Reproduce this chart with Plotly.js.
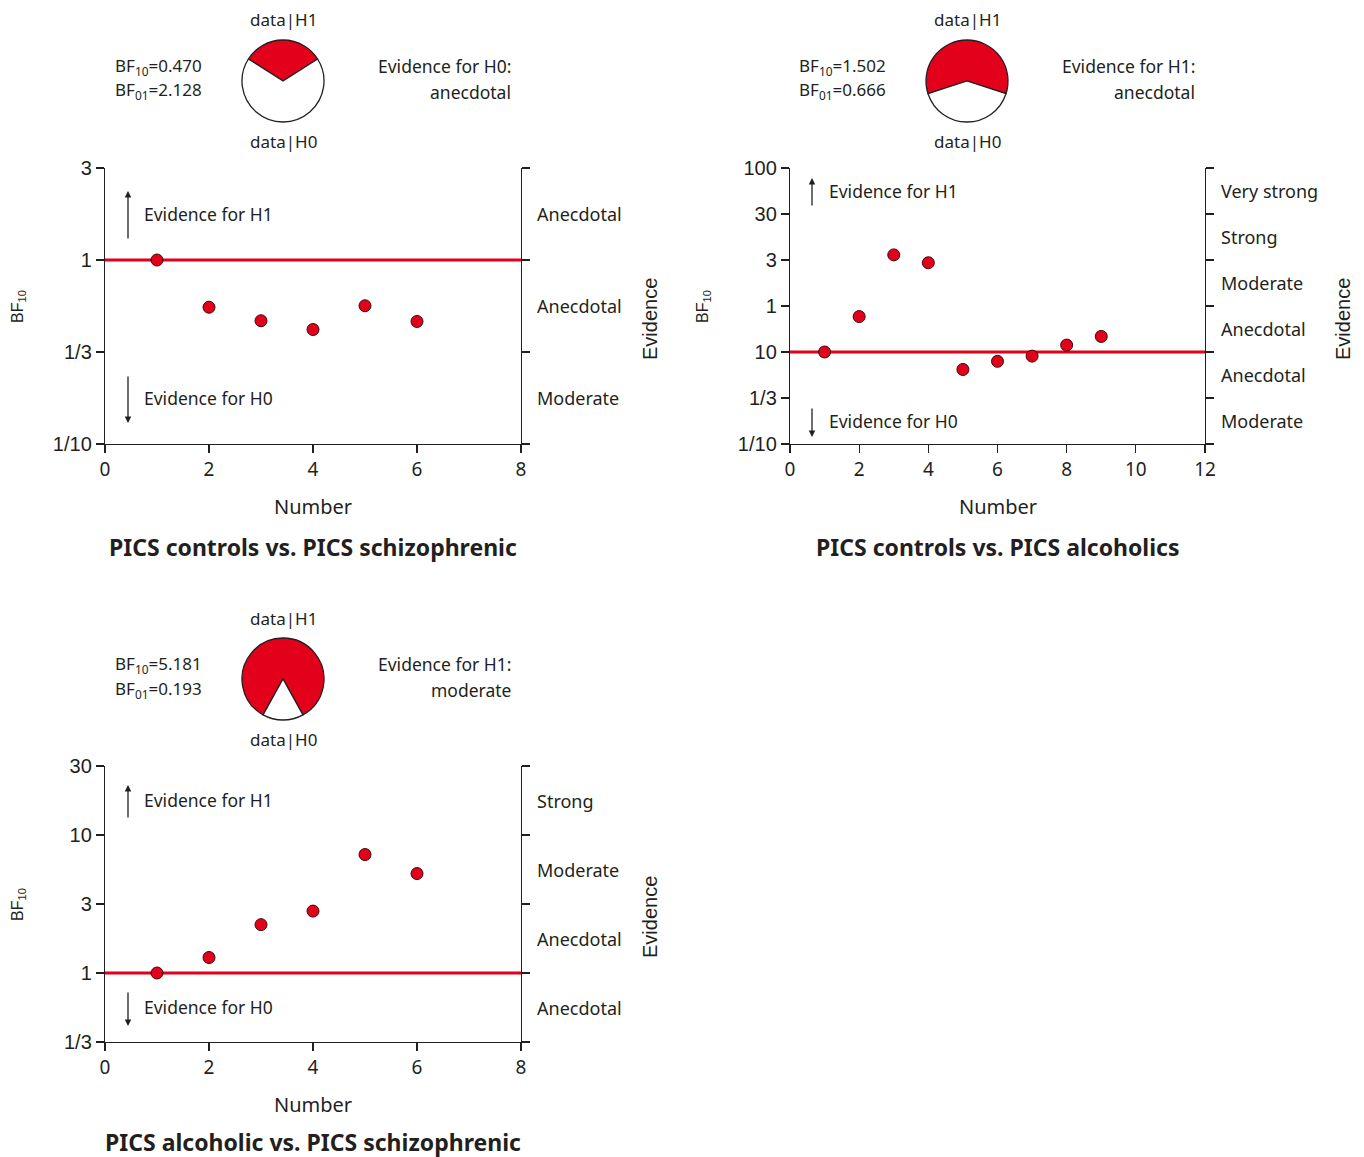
<!DOCTYPE html>
<html>
<head>
<meta charset="utf-8">
<script src="https://cdn.plot.ly/plotly-3.0.1.min.js"></script>
<style>html,body{margin:0;padding:0;background:#fff;}#chart{width:1364px;height:1157px;}</style>
</head>
<body>
<div id="chart"></div>
<script>
// ---------------- data ----------------
const number1 = [1, 2, 3, 4, 5, 6];
const bf1 = [1.0, 0.569, 0.484, 0.436, 0.579, 0.480];
const number2 = [1, 2, 3, 4, 5, 6, 7, 8, 9];
const bf2 = [1.0, 2.33, 11.3, 9.3, 0.659, 0.80, 0.906, 1.18, 1.45];
const number3 = [1, 2, 3, 4, 5, 6];
const bf3 = [1.0, 1.28, 2.16, 2.68, 7.11, 5.10];

const ticks1 = [0.1, 1/3, 1, 3];
const tickLabels1 = ["1/10", "1/3", "1", "3"];
const ticks2 = [0.1, 1/3, 1, 3, 10, 30, 100];
const tickLabels2 = ["1/10", "1/3", "10", "1", "3", "30", "100"];
const ticks3 = [1/3, 1, 3, 10, 30];
const tickLabels3 = ["1/3", "1", "3", "10", "30"];

const evidence1 = ["Moderate", "Anecdotal", "Anecdotal"];
const evidence2 = ["Moderate", "Anecdotal", "Anecdotal", "Moderate", "Strong", "Very strong"];
const evidence3 = ["Anecdotal", "Anecdotal", "Moderate", "Strong"];

const finalBF10 = [0.470, 1.502, 5.181];
const finalBF01 = [2.128, 0.666, 0.193];
const verdictHead = ["Evidence for H0:", "Evidence for H1:", "Evidence for H1:"];
const verdictWord = ["anecdotal", "anecdotal", "moderate"];
const panelTitles = ["PICS controls vs. PICS schizophrenic", "PICS controls vs. PICS alcoholics", "PICS alcoholic vs. PICS schizophrenic"];
const xMax = [8, 12, 8];

// ---------------- helpers ----------------
const W = 1364, H = 1157;
const RED = '#e2001a', INK = '#231f20';
const FONT = 'Noto Sans, sans-serif';
const px = x => x / W;
const py = y => 1 - y / H;

// evenly spaced evidence-scale position (piecewise log between tick values)
function pos(v, ticks) {
  for (let i = 0; i < ticks.length - 1; i++) {
    if (v <= ticks[i + 1] || i === ticks.length - 2) {
      return i + Math.log(v / ticks[i]) / Math.log(ticks[i + 1] / ticks[i]);
    }
  }
}

const panels = [
  {n: number1, bf: bf1, ticks: ticks1, labels: tickLabels1, ev: evidence1,
   x0: 105, x1: 521, y0: 168, y1: 444, dy: 0, dx: 0},
  {n: number2, bf: bf2, ticks: ticks2, labels: tickLabels2, ev: evidence2,
   x0: 790, x1: 1205, y0: 168, y1: 444, dy: 0, dx: 684},
  {n: number3, bf: bf3, ticks: ticks3, labels: tickLabels3, ev: evidence3,
   x0: 105, x1: 521, y0: 766, y1: 1042, dy: 598, dx: 0}
];

const data = [];
const annotations = [];
const shapes = [];
const layout = {
  width: W, height: H,
  margin: {l: 0, r: 0, t: 0, b: 0},
  paper_bgcolor: '#fff', plot_bgcolor: '#fff',
  showlegend: false,
  font: {family: FONT, color: INK}
};

panels.forEach((p, k) => {
  const sx = k === 0 ? '' : String(k + 1);
  const xa = 'x' + sx, ya = 'y' + sx;
  const nT = p.ticks.length - 1;
  const tickPos = p.ticks.map(t => pos(t, p.ticks));
  const xt = [];
  for (let v = 0; v <= xMax[k]; v += 2) xt.push(v);

  layout['xaxis' + sx] = {
    domain: [px(p.x0), px(p.x1)], anchor: ya, range: [0, xMax[k]],
    tickvals: xt, ticks: 'outside', ticklen: 8, tickwidth: 1.2, tickcolor: INK,
    showline: true, linecolor: INK, linewidth: 1.2, showgrid: false, zeroline: false,
    tickfont: {family: FONT, size: 19, color: INK}, fixedrange: true
  };
  layout['yaxis' + sx] = {
    domain: [py(p.y1), py(p.y0)], anchor: xa, range: [0, nT],
    tickvals: tickPos, ticktext: p.labels, ticks: 'outside', ticklen: 8, tickwidth: 1.2, tickcolor: INK,
    showline: true, mirror: 'ticks', linecolor: INK, linewidth: 1.2, showgrid: false, zeroline: false,
    tickfont: {family: 'Liberation Sans, Arial, sans-serif', size: 20, color: INK}, fixedrange: true
  };

  // reference line at BF = 1
  shapes.push({type: 'line', xref: xa, yref: ya, x0: 0, x1: xMax[k],
    y0: pos(1, p.ticks), y1: pos(1, p.ticks), line: {color: RED, width: 3}, layer: 'below'});

  // points
  data.push({
    type: 'scatter', mode: 'markers', xaxis: xa, yaxis: ya,
    x: p.n, y: p.bf.map(v => pos(v, p.ticks)),
    marker: {size: 12, color: RED, line: {color: '#3a0a0a', width: 1}},
    hoverinfo: 'skip', cliponaxis: false
  });

  // pie
  const h1 = finalBF10[k] / (1 + finalBF10[k]);
  const h0 = 1 - h1;
  const cx = 283 + p.dx, cy = 81 + p.dy, r = 41;
  data.push({
    type: 'pie', values: [h1, h0], labels: ['data|H1', 'data|H0'],
    marker: {colors: [RED, '#ffffff'], line: {color: INK, width: 1.3}},
    sort: false, direction: 'clockwise', rotation: -h1 * 180,
    textinfo: 'none', hoverinfo: 'skip', showlegend: false,
    domain: {x: [px(cx - r), px(cx + r)], y: [py(cy + r), py(cy - r)]}
  });

  const txt = (text, x, y, xanchor, size, extra) => annotations.push(Object.assign({
    text: text, xref: 'paper', yref: 'paper', x: px(x), y: py(y),
    xanchor: xanchor, yanchor: 'middle', showarrow: false,
    font: {family: FONT, size: size, color: INK}
  }, extra || {}));

  txt('data|H1', cx, 20 + p.dy, 'center', 17);
  txt('data|H0', cx, 141 + p.dy, 'center', 17);
  txt('BF<sub>10</sub>=' + finalBF10[k].toFixed(3), 113 + p.dx, 66 + p.dy, 'left', 17);
  txt('BF<sub>01</sub>=' + finalBF01[k].toFixed(3), 113 + p.dx, 91 + p.dy, 'left', 17);
  txt(verdictHead[k], 513 + p.dx, 66 + p.dy, 'right', 17.5);
  txt(verdictWord[k], 513 + p.dx, 92 + p.dy, 'right', 17.5);

  // evidence direction arrows + text
  const upHead = [p.y0 + 23, p.y0 + 10, p.y0 + 19][k];
  const upLen = [49, 29, 34][k];
  const dnHead = [p.y1 - 21, p.y1 - 7, p.y1 - 16][k];
  const dnLen = [48, 30, 35][k];
  const upTxt = [214, 191, 800][k];
  const dnTxt = [398, 421, 1007][k];
  const axp = p.x0 + 23 - (k === 1 ? 1 : 0);
  annotations.push({xref: 'paper', yref: 'paper', x: px(axp), y: py(upHead), ax: 0, ay: upLen,
    text: '', showarrow: true, arrowhead: 2, arrowsize: 1, arrowwidth: 1.3, arrowcolor: INK});
  annotations.push({xref: 'paper', yref: 'paper', x: px(axp), y: py(dnHead), ax: 0, ay: -dnLen,
    text: '', showarrow: true, arrowhead: 2, arrowsize: 1, arrowwidth: 1.3, arrowcolor: INK});
  txt('Evidence for H1', p.x0 + 37, upTxt, 'left', 17.5);
  txt('Evidence for H0', p.x0 + 37, dnTxt, 'left', 17.5);

  // evidence categories on right
  p.ev.forEach((lab, i) => {
    annotations.push({text: lab, xref: 'paper', yref: ya, x: px(p.x1 + 14), y: i + 0.5,
      xanchor: 'left', yanchor: 'middle', showarrow: false,
      font: {family: FONT, size: 18, color: INK}});
  });

  // axis titles
  const midY = (p.y0 + p.y1) / 2;
  txt('BF<sub>10</sub>', p.x0 - 87, midY + 1, 'center', 16,
    {textangle: -90, font: {family: 'Liberation Sans, Arial, sans-serif', size: 16, color: INK}});
  txt('Evidence', p.x1 + 129 + (k === 1 ? 9 : 0), midY + 13, 'center', 20,
    {textangle: -90, font: {family: 'Liberation Sans, Arial, sans-serif', size: 20, color: INK}});
  txt('Number', (p.x0 + p.x1) / 2, p.y1 + 62, 'center', 20);
  txt('<b>' + panelTitles[k] + '</b>', (p.x0 + p.x1) / 2, p.y1 + (k === 2 ? 100 : 103), 'center', 23,
    {font: {family: FONT, size: 23, color: INK}});
});

layout.annotations = annotations;
layout.shapes = shapes;

Plotly.newPlot('chart', data, layout, {staticPlot: true, displayModeBar: false});
</script>
</body>
</html>
